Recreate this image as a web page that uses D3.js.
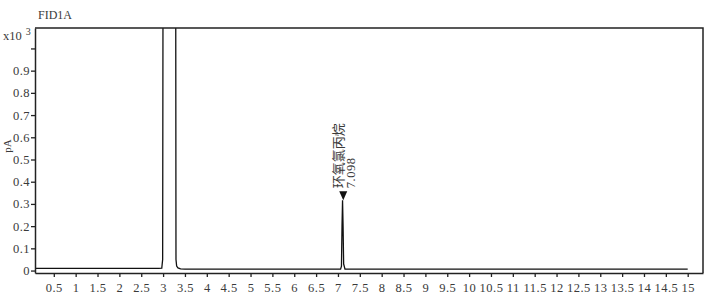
<!DOCTYPE html>
<html><head><meta charset="utf-8">
<script src="https://cdn.jsdelivr.net/npm/d3@7"></script>
<style>
body{margin:0;background:#fff;}
text{font-family:"Liberation Serif","DejaVu Serif",serif;fill:#3a3a3a;}
</style></head>
<body><svg id="c" width="722" height="297"></svg>
<script>
// Chromatogram trace (time in min, signal in x10^3 pA)
const times   = [0.07, 1.0, 2.0, 2.9, 2.97, 2.99, 3.01, 3.28, 3.295, 3.31, 3.34, 3.4, 3.5, 4.5, 5.5, 6.5, 7.0, 7.06, 7.08, 7.093, 7.105, 7.117, 7.13, 7.16, 7.3, 8.5, 10.0, 12.0, 14.0, 15.0];
const signal  = [0.010, 0.010, 0.010, 0.010, 0.011, 0.05, 3.0, 3.0, 0.05, 0.02, 0.012, 0.008, 0.006, 0.006, 0.006, 0.006, 0.006, 0.006, 0.02, 0.2, 0.317, 0.2, 0.03, 0.007, 0.006, 0.006, 0.006, 0.006, 0.006, 0.006];
const xTicks  = [0.5,1,1.5,2,2.5,3,3.5,4,4.5,5,5.5,6,6.5,7,7.5,8,8.5,9,9.5,10,10.5,11,11.5,12,12.5,13,13.5,14,14.5,15];
const yTicks  = [0,0.1,0.2,0.3,0.4,0.5,0.6,0.7,0.8,0.9,1.0];
const peakTimes  = [7.098];
const peakHeights = [0.317];
const peakNames  = ["环氧氯丙烷"];
const title = "FID1A";
const yUnit = "pA";

const svg = d3.select("#c");
const L = 35, R = 703, T = 28, B = 273;
const x = d3.scaleLinear().domain([0.07, 15.35]).range([L, R]);
const y = d3.scaleLinear().domain([-0.011, 1.092]).range([B, T]);

svg.append("defs").append("clipPath").attr("id","clip")
  .append("rect").attr("x",L).attr("y",T).attr("width",R-L).attr("height",B-T);

// trace
const pts = times.map((t,i)=>[t, signal[i]]);
svg.append("path").datum(pts)
  .attr("clip-path","url(#clip)")
  .attr("fill","none").attr("stroke","#111").attr("stroke-width",1.3)
  .attr("d", d3.line().x(d=>x(d[0])).y(d=>y(d[1])));

// frame
svg.append("path")
  .attr("d",`M${L},${T}H${R}V${B}`)
  .attr("fill","none").attr("stroke","#222").attr("stroke-width",1.5);

// x axis
const gx = svg.append("g").attr("transform",`translate(0,${B})`)
  .call(d3.axisBottom(x).tickValues(xTicks).tickSize(4).tickSizeOuter(0).tickFormat(d=>String(d)));
gx.select(".domain").attr("stroke","#222").attr("stroke-width",1.5);
gx.selectAll(".tick line").attr("stroke","#222").attr("stroke-width",1.3);
gx.selectAll(".tick text").attr("font-size",12.5).attr("dy","0.95em").attr("fill","#3a3a3a")
  .style("letter-spacing","0.5px")
  .style("font-family","'Liberation Serif',serif");

// y axis
const gy = svg.append("g").attr("transform",`translate(${L},0)`)
  .call(d3.axisLeft(y).tickValues(yTicks).tickSize(4).tickSizeOuter(0)
    .tickFormat(d=> d>=1 ? "" : String(d)));
gy.select(".domain").attr("stroke","#222").attr("stroke-width",1.5);
gy.selectAll(".tick line").attr("stroke","#222").attr("stroke-width",1.3);
gy.selectAll(".tick text").attr("font-size",12.5).attr("x",-5).attr("fill","#3a3a3a")
  .style("letter-spacing","0.5px")
  .style("font-family","'Liberation Serif',serif");

// multiplier label
const m = svg.append("text").attr("x",3).attr("y",40).attr("font-size",12.5);
m.append("tspan").text("x10");
m.append("tspan").attr("dx",4).attr("dy",-5).attr("font-size",10).text("3");

// unit label
svg.append("text").attr("transform","translate(11,146) rotate(-90)")
  .attr("text-anchor","middle").attr("font-size",11).text(yUnit);

// title
svg.append("text").attr("x",38).attr("y",19).attr("font-size",12).text(title);

// peak annotations
peakTimes.forEach((t,i)=>{
  const px = x(t) + 1, py = y(peakHeights[i]);
  svg.append("path")
    .attr("d",`M${px-4},${py-9}L${px+4},${py-9}L${px},${py}Z`)
    .attr("fill","#111");
  svg.append("text")
    .attr("transform",`translate(${px+12},${py-12}) rotate(-90)`)
    .attr("font-size",12.5).attr("text-anchor","start")
    .style("letter-spacing","0.5px").text(t.toFixed(3));
  svg.append("text")
    .attr("transform",`translate(${px},${py-12}) rotate(-90)`)
    .attr("font-size",13).attr("text-anchor","start").attr("fill","#555")
    .style("font-family","'Noto Sans CJK SC',sans-serif").text(peakNames[i]);
});
</script></body></html>
